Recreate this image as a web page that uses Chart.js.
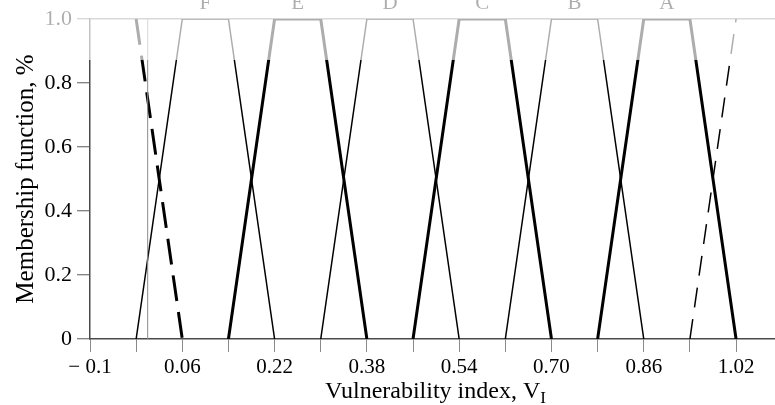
<!DOCTYPE html>
<html>
<head>
<meta charset="utf-8">
<script src="https://cdn.jsdelivr.net/npm/chart.js@4"></script>
<style>
  html, body { margin: 0; padding: 0; background: #fff; }
</style>
</head>
<body>
<canvas id="chart" width="775" height="405"></canvas>
<script>
// membership terms, corners of each trapezoid on the V_I axis
const termNames = ['F', 'E', 'D', 'C', 'B', 'A'];
const termCentres = [0.10, 0.26, 0.42, 0.58, 0.74, 0.90];
const termF = [-0.02, 0.06, 0.14, 0.22];
const termE = [0.14, 0.22, 0.30, 0.38];
const termD = [0.30, 0.38, 0.46, 0.54];
const termC = [0.46, 0.54, 0.62, 0.70];
const termB = [0.62, 0.70, 0.78, 0.86];
const termA = [0.78, 0.86, 0.94, 1.02];
const trapMembership = [0, 1, 1, 0];

// open shoulders drawn dashed
const leftShoulderX = [-0.02, 0.06];
const leftShoulderY = [1, 0];
const rightShoulderX = [0.94, 1.02];
const rightShoulderY = [0, 1];

// thin reference line at V_I = 0
const markerX = [0, 0];
const markerY = [0, 1];

const xTickValues = [-0.1, -0.02, 0.06, 0.14, 0.22, 0.30, 0.38, 0.46, 0.54, 0.62, 0.70, 0.78, 0.86, 0.94, 1.02];
const xTickLabels = ['\u2212 0.1', '', '0.06', '', '0.22', '', '0.38', '', '0.54', '', '0.70', '', '0.86', '', '1.02'];
const yTickValues = [0, 0.2, 0.4, 0.6, 0.8, 1.0];
const yTickLabels = ['0', '0.2', '0.4', '0.6', '0.8', '1.0'];

const fadeLevel = 0.872;
const serif = '"Liberation Serif", "DejaVu Serif", serif';

const toPoints = (xs, ys) => xs.map((x, i) => ({ x, y: ys[i] }));

function lineSet(xs, ys, width, extra = {}) {
  return {
    data: toPoints(xs, ys),
    showLine: true,
    borderColor: '#000',
    borderWidth: width,
    pointRadius: 0,
    tension: 0,
    fill: false,
    ...extra,
  };
}

const fadeTop = {
  id: 'fadeTop',
  afterDraw(chart) {
    const { ctx, chartArea, scales } = chart;
    const x = scales.x;
    const y = scales.y;
    ctx.save();

    ctx.font = `21px ${serif}`;
    ctx.fillStyle = '#000';
    ctx.textAlign = 'center';
    ctx.textBaseline = 'alphabetic';
    termNames.forEach((name, i) => {
      ctx.fillText(name, x.getPixelForValue(termCentres[i]), chartArea.top - 10);
    });

    // the upper band of the figure is washed out in the original
    ctx.fillStyle = 'rgba(255, 255, 255, 0.68)';
    ctx.fillRect(40, 0, chart.width - 40, y.getPixelForValue(fadeLevel));

    // x title with subscript
    const main = 'Vulnerability index, V';
    const sub = 'I';
    ctx.fillStyle = '#000';
    ctx.textAlign = 'left';
    ctx.font = `24px ${serif}`;
    const w1 = ctx.measureText(main).width;
    ctx.font = `17px ${serif}`;
    const w2 = ctx.measureText(sub).width;
    const start = (chartArea.left + chartArea.right) / 2 - (w1 + w2) / 2 + 3;
    ctx.font = `24px ${serif}`;
    ctx.fillText(main, start, 398);
    ctx.font = `17px ${serif}`;
    ctx.fillText(sub, start + w1, 403);

    ctx.restore();
  },
};

new Chart(document.getElementById('chart'), {
  type: 'scatter',
  data: {
    datasets: [
      lineSet(markerX, markerY, 1, { borderColor: '#8a8a8a' }),
      lineSet(termF, trapMembership, 1.5),
      lineSet(termE, trapMembership, 3),
      lineSet(termD, trapMembership, 1.5),
      lineSet(termC, trapMembership, 3),
      lineSet(termB, trapMembership, 1.5),
      lineSet(termA, trapMembership, 3),
      lineSet(leftShoulderX, leftShoulderY, 3, { borderDash: [26, 11] }),
      lineSet(rightShoulderX, rightShoulderY, 1.5, { borderDash: [20, 12] }),
    ],
  },
  options: {
    responsive: false,
    animation: false,
    devicePixelRatio: 1,
    layout: { padding: { top: 19, right: 0, left: 0, bottom: 0 } },
    plugins: {
      legend: { display: false },
      tooltip: { enabled: false },
    },
    scales: {
      x: {
        type: 'linear',
        min: -0.1,
        max: 1.0875,
        afterBuildTicks: scale => { scale.ticks = xTickValues.map(value => ({ value })); },
        afterFit: scale => { scale.height = 66; },
        ticks: {
          autoSkip: false,
          maxRotation: 0,
          padding: 3,
          color: '#000',
          font: { family: serif, size: 21 },
          callback: (value, index) => xTickLabels[index],
        },
        grid: {
          drawOnChartArea: false,
          drawTicks: true,
          tickLength: 13,
          tickColor: '#8a8a8a',
          tickWidth: 1,
        },
        border: { color: '#4a4a4a', width: 1.5 },
      },
      y: {
        min: 0,
        max: 1,
        afterBuildTicks: scale => { scale.ticks = yTickValues.map(value => ({ value })); },
        afterFit: scale => { scale.width = 90; },
        ticks: {
          padding: 5,
          color: '#000',
          font: { family: serif, size: 22 },
          callback: (value, index) => yTickLabels[index],
        },
        grid: {
          color: ctx => (ctx.tick && ctx.tick.value === 1 ? '#8a8a8a' : 'rgba(0,0,0,0)'),
          lineWidth: 1.5,
          tickLength: 13,
          tickColor: '#5a5a5a',
          tickWidth: 1,
        },
        border: { color: '#4a4a4a', width: 1.5 },
        title: {
          display: true,
          text: 'Membership function, %',
          color: '#000',
          font: { family: serif, size: 25 },
          padding: { top: 11, bottom: 0 },
        },
      },
    },
  },
  plugins: [fadeTop],
});
</script>
</body>
</html>
